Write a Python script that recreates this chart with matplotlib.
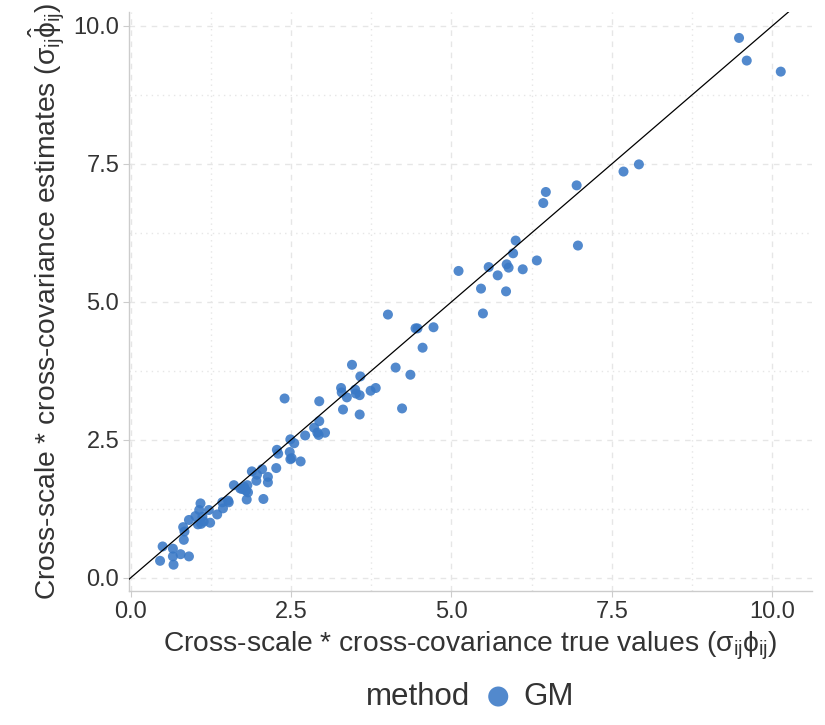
import matplotlib
matplotlib.use("Agg")
import matplotlib.pyplot as plt
from matplotlib.ticker import MultipleLocator

# true values (x) and GM estimates (y)
true_vals = [
    9.48, 9.60, 10.13, 7.68, 7.92, 6.95, 6.47, 6.43, 6.97,
    4.72, 5.49, 5.11, 5.46, 5.85, 5.58, 5.72, 5.86, 5.89, 6.11, 5.96, 6.00, 6.33,
    4.01, 4.44, 4.47, 4.55, 4.13, 4.36, 4.23,
    3.45, 3.58, 3.28, 3.29, 3.37, 3.50, 3.51, 3.57, 3.74, 3.82, 3.31, 3.57,
    2.40, 2.94, 2.94, 2.86, 2.91, 2.93, 3.03, 2.72, 2.49, 2.55,
    2.28, 2.30, 2.48, 2.49, 2.51, 2.65, 2.27, 2.05, 1.89, 1.97, 2.14,
    1.96, 2.14, 1.61, 1.77, 1.82, 1.71, 1.74, 1.80, 1.83, 1.81, 2.07,
    1.09, 1.43, 1.44, 1.52, 1.53, 1.35, 1.22, 1.07, 1.01, 1.12, 0.91,
    1.14, 1.24, 1.05, 1.10, 0.82, 0.84, 0.83,
    0.50, 0.66, 0.66, 0.78, 0.91, 0.46, 0.67,
]
estimates = [
    9.78, 9.37, 9.17, 7.36, 7.49, 7.11, 6.99, 6.79, 6.02,
    4.54, 4.79, 5.56, 5.24, 5.19, 5.63, 5.48, 5.68, 5.62, 5.59, 5.88, 6.11, 5.75,
    4.77, 4.52, 4.52, 4.17, 3.81, 3.68, 3.07,
    3.86, 3.65, 3.44, 3.36, 3.27, 3.41, 3.34, 3.31, 3.39, 3.44, 3.05, 2.96,
    3.25, 3.20, 2.84, 2.72, 2.63, 2.59, 2.63, 2.58, 2.51, 2.44,
    2.32, 2.25, 2.28, 2.15, 2.17, 2.11, 1.99, 1.97, 1.93, 1.87, 1.83,
    1.76, 1.73, 1.68, 1.65, 1.68, 1.62, 1.61, 1.58, 1.55, 1.42, 1.43,
    1.35, 1.37, 1.26, 1.40, 1.37, 1.15, 1.23, 1.23, 1.12, 1.11, 1.05,
    1.02, 1.00, 0.97, 0.98, 0.92, 0.84, 0.69,
    0.57, 0.53, 0.39, 0.43, 0.39, 0.31, 0.24,
]
method = "GM"

plt.rcParams['font.family'] = ['Liberation Sans', 'DejaVu Sans']
plt.rcParams['mathtext.fontset'] = 'custom'
plt.rcParams['mathtext.rm'] = 'Liberation Sans'
plt.rcParams['mathtext.it'] = 'Liberation Sans'
plt.rcParams['mathtext.sf'] = 'Liberation Sans'

text_col = '#333333'
grid_col = '#e6e6e6'


def padded(vals, frac=0.05):
    lo, hi = min(vals), max(vals)
    d = (hi - lo) * frac
    return lo - d, hi + d


fig = plt.figure(figsize=(8.25, 7.25), dpi=100)
ax = fig.add_axes([0.1564, 0.1848, 0.8276, 0.7992])

pts = ax.scatter(true_vals, estimates, s=52, color='#3a79c6', alpha=0.88,
                 edgecolors='none', zorder=3, label=method)
ax.axline((0, 0), slope=1, color='black', lw=0.9, zorder=4)
ax.set_xlim(*padded(true_vals))
ax.set_ylim(*padded(estimates))

ax.xaxis.set_major_locator(MultipleLocator(2.5))
ax.yaxis.set_major_locator(MultipleLocator(2.5))
ax.xaxis.set_minor_locator(MultipleLocator(1.25))
ax.yaxis.set_minor_locator(MultipleLocator(1.25))
ax.xaxis.set_major_formatter(lambda v, p: f"{v:.1f}")
ax.yaxis.set_major_formatter(lambda v, p: f"{v:.1f}")
ax.grid(which='major', color=grid_col, lw=1.0, ls=(0, (4, 4)))
ax.grid(which='minor', color=grid_col, lw=1.0, ls=(0, (1, 3)))
ax.set_axisbelow(True)

for s in ['top', 'right']:
    ax.spines[s].set_visible(False)
for s in ['left', 'bottom']:
    ax.spines[s].set_color('#cccccc')
    ax.spines[s].set_linewidth(1.0)
ax.tick_params(which='major', length=4, color='#cccccc', labelsize=17,
               labelcolor=text_col, pad=3)
ax.tick_params(which='minor', length=0)

ax.set_xlabel(r'Cross-scale * cross-covariance true values ($\sigma_{ij}\phi_{ij}$)',
              fontsize=20.3, color=text_col, labelpad=5)
ax.set_ylabel(r'Cross-scale * cross-covariance estimates ($\hat{\sigma_{ij}\phi_{ij}}$)',
              fontsize=20.3, color=text_col, labelpad=5)

fig.text(0.57, 0.039, 'method', fontsize=22.5, color=text_col, ha='right', va='center')
fig.legend(handles=[pts], loc='center left', bbox_to_anchor=(0.585, 0.039),
           frameon=False, fontsize=22.5, markerscale=2.0, handletextpad=0.3,
           handlelength=1.0, borderaxespad=0, borderpad=0, labelcolor=text_col)

fig.savefig('out.png', dpi=100)
